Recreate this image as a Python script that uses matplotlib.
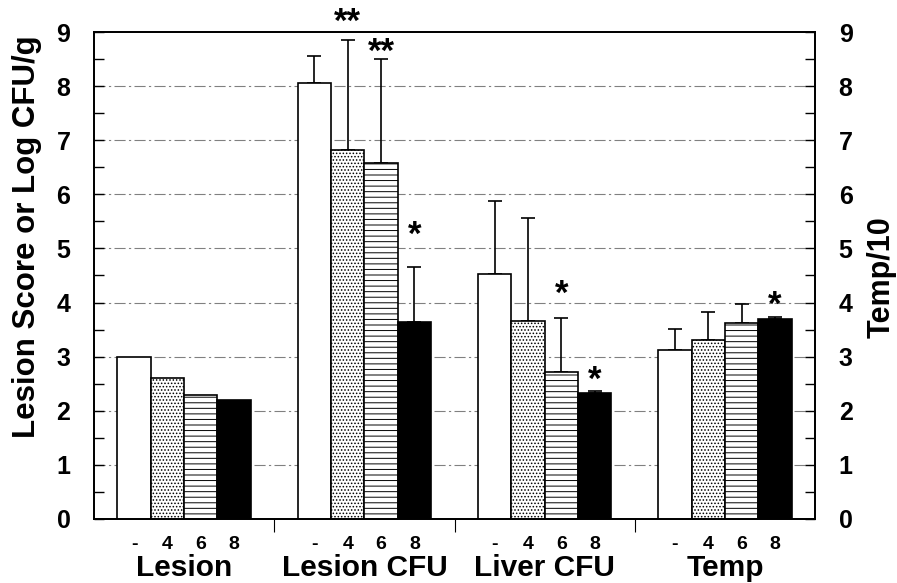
import matplotlib
matplotlib.use("Agg")
import matplotlib.pyplot as plt
import numpy as np
from matplotlib.ticker import MultipleLocator, FixedLocator

plt.rcParams["font.family"] = ["Liberation Sans", "DejaVu Sans"]
plt.rcParams["font.weight"] = "bold"
plt.rcParams["hatch.linewidth"] = 0.7

GROUPS = ["Lesion", "Lesion CFU", "Liver CFU", "Temp"]
DOSES = ["-", "4", "6", "8"]

# mean per group, one entry per dose
LESION = [3.00, 2.60, 2.30, 2.20]
LESION_CFU = [8.05, 6.82, 6.57, 3.64]
LIVER_CFU = [4.53, 3.66, 2.71, 2.32]
TEMP = [3.12, 3.31, 3.62, 3.69]

# upper error (SD), none shown for the lesion score
LESION_ERR = [0, 0, 0, 0]
LESION_CFU_ERR = [0.51, 2.03, 1.93, 1.01]
LIVER_CFU_ERR = [1.35, 1.90, 1.00, 0.05]
TEMP_ERR = [0.39, 0.51, 0.35, 0.04]

# significance marks: (group, dose index, text, y)
STARS = [
    (1, 1, "**", 9.17),
    (1, 2, "**", 8.62),
    (1, 3, "*", 5.24),
    (2, 2, "*", 4.15),
    (2, 3, "*", 2.56),
    (3, 3, "*", 3.94),
]

means = np.array([LESION, LESION_CFU, LIVER_CFU, TEMP])
errs = np.array([LESION_ERR, LESION_CFU_ERR, LIVER_CFU_ERR, TEMP_ERR])

styles = [
    dict(facecolor="white", hatch=None),
    dict(facecolor="white", hatch="....."),
    dict(facecolor="white", hatch="---"),
    dict(facecolor="black", hatch=None),
]

fig = plt.figure(figsize=(8.97, 5.83), dpi=100)
ax = fig.add_axes([0.1048, 0.1098, 0.8038, 0.8353])

width = 0.185
centers = np.arange(len(GROUPS)) + 0.5
offsets = (np.arange(4) - 1.5) * width

for i, st in enumerate(styles):
    x = centers + offsets[i]
    ax.bar(x, means[:, i], width=width, edgecolor="black", linewidth=1.2,
           zorder=3, **st)
    has_err = errs[:, i] > 0
    ax.errorbar(x[has_err], means[has_err, i],
                yerr=[np.zeros(has_err.sum()), errs[has_err, i]],
                fmt="none", ecolor="black", elinewidth=1.2, capsize=5,
                capthick=1.2, zorder=2)

for g, d, txt, y in STARS:
    ax.text(centers[g] + offsets[d], y, txt, ha="center", va="center",
            fontsize=25, fontweight="bold", clip_on=False, zorder=4)

# dashed gridlines at every whole unit
for yv in range(1, 9):
    ax.axhline(yv, color="0.5", lw=0.8, ls=(0, (10, 3, 2, 3)), zorder=1)

ax.set_xlim(0, 4)
ax.set_ylim(0, 9)

bar_x = (centers[:, None] + offsets[None, :]).ravel()
ax.set_xticks(bar_x)
ax.set_xticklabels(DOSES * len(GROUPS), fontsize=14, fontweight="bold")
ax.xaxis.set_minor_locator(FixedLocator([1, 2, 3]))
ax.tick_params(axis="x", which="major", length=0, pad=12)
ax.tick_params(axis="x", which="minor", direction="out", length=9, width=0.8)

for g, name in enumerate(GROUPS):
    ax.text(centers[g], -0.10, name, transform=ax.get_xaxis_transform(),
            ha="center", va="center", fontsize=21.5, fontweight="bold")

ax.yaxis.set_major_locator(MultipleLocator(1))
ax.yaxis.set_minor_locator(MultipleLocator(0.5))
ax.tick_params(axis="y", which="both", direction="in", length=7, width=1.0,
               labelsize=18, pad=17)
for lab in ax.get_yticklabels():
    lab.set_fontweight("bold")
ax.set_ylabel("Lesion Score or Log CFU/g", fontsize=22.5, fontweight="bold")
ax.yaxis.set_label_coords(-0.093, 0.579)
ax.yaxis.label.set_verticalalignment("center")

ax2 = ax.twinx()
ax2.set_ylim(0, 9)
ax2.yaxis.set_major_locator(MultipleLocator(1))
ax2.yaxis.set_minor_locator(MultipleLocator(0.5))
ax2.tick_params(axis="y", which="both", direction="in", length=7, width=1.0,
                labelsize=18, pad=17)
for lab in ax2.get_yticklabels():
    lab.set_fontweight("bold")
ax2.set_ylabel("Temp/10", fontsize=22, fontweight="bold")
ax2.yaxis.set_label_coords(1.093, 0.497)
ax2.yaxis.label.set_verticalalignment("center")

for a in (ax, ax2):
    for sp in a.spines.values():
        sp.set_linewidth(1.3)

fig.savefig("out.png", dpi=100)
